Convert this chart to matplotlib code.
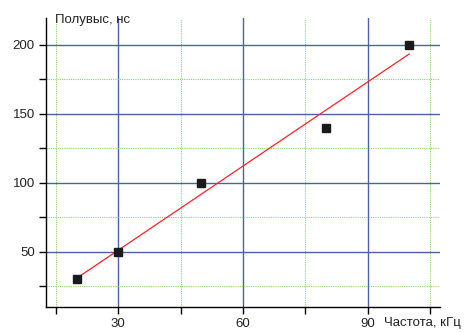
import matplotlib.pyplot as plt
from matplotlib.ticker import MultipleLocator
import numpy as np

# data
freq = np.array([20, 30, 50, 80, 100])
halfwidth = np.array([30, 50, 100, 140, 200])
xlabel = "Частота, кГц"
ylabel = "Полувыс, нс"

plt.rcParams["font.family"] = ["Liberation Sans", "DejaVu Sans"]

fig = plt.figure(figsize=(4.67, 3.32), dpi=100)
ax = fig.add_axes([0.0985, 0.0753, 0.8435, 0.8707])

# linear fit
k, b = np.polyfit(freq, halfwidth, 1)
xf = np.array([freq.min(), freq.max()])
ax.plot(xf, k * xf + b, color='#ff2020', linewidth=0.9, zorder=3)
ax.plot(freq, halfwidth, 's', color='#1a1a1a', markersize=5.3, zorder=4)

ax.set_xlim(12.6, 107.4)
ax.set_ylim(10, 219.5)
ax.xaxis.set_major_locator(MultipleLocator(30))
ax.xaxis.set_minor_locator(MultipleLocator(15))
ax.yaxis.set_major_locator(MultipleLocator(50))
ax.yaxis.set_minor_locator(MultipleLocator(25))

# grid
ax.grid(which='major', color='#4a62a8', linewidth=1.0, linestyle='-')
ax.grid(which='minor', color='#86d862', linewidth=0.8, linestyle=(0, (1, 1)))
ax.set_axisbelow(True)

for s in ['top', 'right']:
    ax.spines[s].set_visible(False)
for s in ['left', 'bottom']:
    ax.spines[s].set_color('black')
    ax.spines[s].set_linewidth(1.0)

ax.tick_params(which='both', direction='out', length=5, width=1, colors='black',
               labelsize=9.5, labelcolor='#222222')
ax.tick_params(axis='x', pad=3)
ax.tick_params(axis='y', pad=3)

fig.text(55 / 467, 1 - 20 / 332, ylabel, fontsize=9.5, color='#222222',
         ha='left', va='center')
fig.text(384 / 467, 1 - 323 / 332, xlabel, fontsize=9.5, color='#222222',
         ha='left', va='center')

fig.savefig("out.png", dpi=100)
